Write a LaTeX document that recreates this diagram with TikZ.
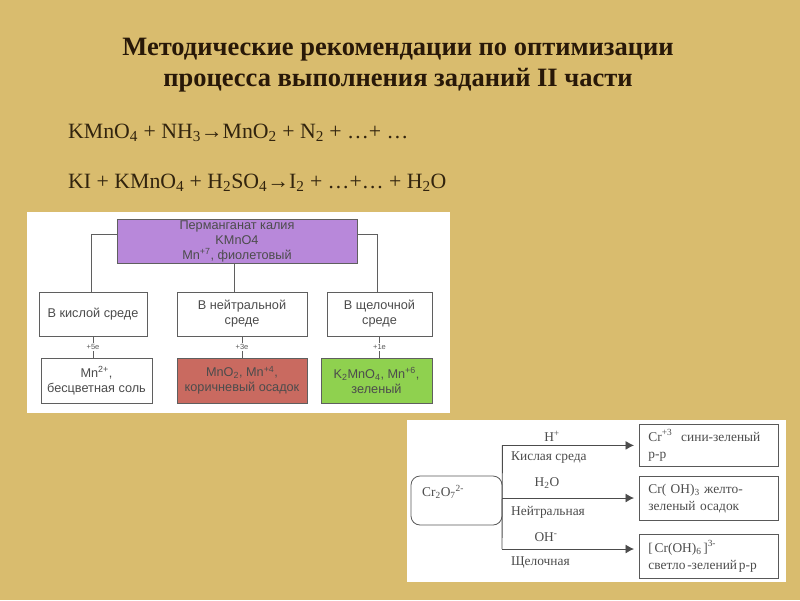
\documentclass[tikz,border=0pt]{standalone}
\usepackage{fontspec}
\setmainfont{Liberation Serif}
\newfontfamily\boxfont{Liberation Sans}
\usetikzlibrary{arrows.meta,positioning,calc}
\definecolor{slidebg}{RGB}{217,188,110}
\definecolor{titleink}{RGB}{40,24,8}
\definecolor{formulaink}{RGB}{50,36,14}
\definecolor{boxpurple}{RGB}{184,136,218}
\definecolor{boxred}{RGB}{201,106,96}
\definecolor{boxgreen}{RGB}{143,209,79}
\definecolor{lineink}{RGB}{95,95,95}
\tikzset{
 title/.style={font=\bfseries\fontsize{26.5}{31}\selectfont,text=titleink,align=center},
 formula/.style={font=\fontsize{21.8}{26}\selectfont,text=formulaink,anchor=west,inner sep=0pt},
 panel/.style={fill=white,draw=none},
 kbox/.style={rectangle,draw=lineink,line width=0.8pt,fill=white,align=center,inner sep=0pt,text=black!70,font=\boxfont\fontsize{12.7}{15}\selectfont},
 elabel/.style={font=\boxfont\fontsize{7.5}{9}\selectfont,text=black!65,fill=white,inner sep=1.5pt},
 kline/.style={draw=lineink,line width=0.8pt},
 crbox/.style={rectangle,draw=black!65,line width=0.8pt,fill=white,align=left,anchor=north west,inner xsep=9pt,inner ysep=0pt,minimum width=139pt,text width=121pt,text=black!70,font=\fontsize{13.4}{17}\selectfont},
 crtext/.style={font=\fontsize{13.4}{16}\selectfont,text=black!70,inner sep=0pt},
 crline/.style={draw=black!70,line width=0.9pt},
 crarrow/.style={-{Latex[length=8.5pt,width=9pt]},crline}}
\begin{document}
\begin{tikzpicture}[x=1pt,y=-1pt]
\useasboundingbox[fill=slidebg] (0,0) rectangle (800,600);
% heading and reactions
\node[title] (head) at (398,65) {Методические рекомендации по оптимизации\\процесса выполнения заданий II части};
\node[formula] (eqone) at (68,133) {KMnO\textsubscript{4} + NH\textsubscript{3}→MnO\textsubscript{2} + N\textsubscript{2} + …+ …};
\node[formula] (eqtwo) at (68,183) {KI + KMnO\textsubscript{4} + H\textsubscript{2}SO\textsubscript{4}→I\textsubscript{2} + …+… + H\textsubscript{2}O};
% permanganate
\fill[panel] (27,212) rectangle (450,413);
\node[kbox,fill=boxpurple,minimum width=240pt,minimum height=44pt] (kmno) at (237,241) {Перманганат калия\\KMnO4\\Mn\textsuperscript{+7}, фиолетовый};
\node[kbox,minimum width=108pt,minimum height=44pt] (acid) at (93,314) {В кислой среде};
\node[kbox,minimum width=130pt,minimum height=44pt] (neutral) at (242,314) {В нейтральной\\среде};
\node[kbox,minimum width=105pt,minimum height=44pt] (alkali) at (379.5,314) {В щелочной\\среде};
\node[kbox,minimum width=111pt,minimum height=45pt] (mntwo) at (96.5,380.5) {Mn\textsuperscript{2+},\\бесцветная соль};
\node[kbox,fill=boxred,minimum width=130pt,minimum height=45pt] (mnfour) at (242,380.5) {MnO\textsubscript{2}, Mn\textsuperscript{+4},\\коричневый осадок};
\node[kbox,fill=boxgreen,minimum width=111pt,minimum height=45pt] (mnsix) at (376.5,380.5) {K\textsubscript{2}MnO\textsubscript{4}, Mn\textsuperscript{+6},\\зеленый};
\draw[kline] ([yshift=7pt]kmno.west) -| ([xshift=-2pt]acid.north);
\draw[kline] ([yshift=7pt]kmno.east) -| ([xshift=-2.5pt]alkali.north);
\draw[kline] ([xshift=-3pt]kmno.south) -- ([xshift=-3pt]kmno.south|-neutral.north);
\draw[kline] (acid.south) -- node[elabel] (efive) {+5e} (acid.south|-mntwo.north);
\draw[kline] (neutral.south) -- node[elabel] (ethree) {+3e} (mnfour.north);
\draw[kline] (alkali.south) -- node[elabel] (eone) {+1e} (alkali.south|-mnsix.north);
% dichromate
\fill[panel] (407,420) rectangle (786,582);
\node[kbox,draw=black!65,rounded corners=9pt,minimum width=91pt,minimum height=49pt] (cr) at (456.5,500.5) {};
\node[crtext,anchor=west] (crlabel) at (422,492) {Cr\textsubscript{2}O\textsubscript{7}\textsuperscript{2-}};
\node[crbox,minimum height=42pt] (crthree) at (639,424) {Cr\textsuperscript{+3}\ \ сини-зеленый\\р-р};
\node[crbox,minimum height=44pt] (crhydro) at (639,476) {Cr( OH)\textsubscript{3} желто-\\зеленый осадок};
\node[crbox,minimum height=44pt] (crsix) at (639,534) {\spaceskip=1.8pt [ Cr(OH)\textsubscript{6} ]\textsuperscript{3-}\\светло -зелений р-р};
\coordinate (armtop) at (cr.east|-crthree.west);
\coordinate (armmid) at (502,498);
\coordinate (armlow) at (502,549);
\draw[crline] (armtop) -- (armlow);
\draw[crarrow] (armtop) -- ([xshift=-5pt]crthree.west);
\draw[crarrow] (armmid) -- (634,498);
\draw[crarrow] (armlow) -- (634,549);
\node[crtext] (hplus) at (552,436) {H\textsuperscript{+}};
\node[crtext] (water) at (547,483) {H\textsubscript{2}O};
\node[crtext] (hydroxide) at (546,537) {OH\textsuperscript{-}};
\node[crtext,anchor=west] (acidlabel) at (511,458) {Кислая среда};
\node[crtext,anchor=west] (neutrallabel) at (511,512) {Нейтральная};
\node[crtext,anchor=west] (alkalilabel) at (511,563) {Щелочная};
\end{tikzpicture}
\end{document}
